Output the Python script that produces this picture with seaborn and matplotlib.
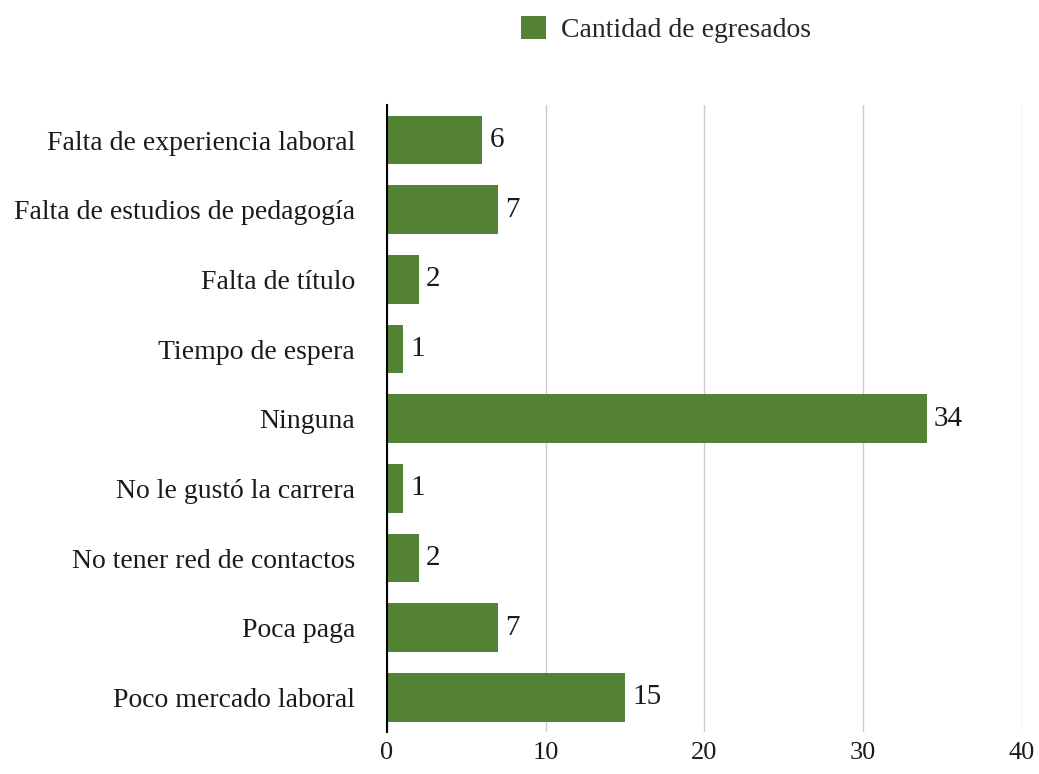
import pandas as pd
import seaborn as sns
import matplotlib.pyplot as plt

# Data
categories = [
    'Falta de experiencia laboral',
    'Falta de estudios de pedagogía',
    'Falta de título',
    'Tiempo de espera',
    'Ninguna',
    'No le gustó la carrera',
    'No tener red de contactos',
    'Poca paga',
    'Poco mercado laboral',
]
counts = [6, 7, 2, 1, 34, 1, 2, 7, 15]
x_ticks = [0, 10, 20, 30, 40]
series_name = 'Cantidad de egresados'

data = pd.DataFrame({'Motivo': categories, series_name: counts})

sns.set_style('white')
plt.rcParams['font.family'] = ['Liberation Serif', 'DejaVu Serif']

fig = plt.figure(figsize=(10.39, 7.74), dpi=100)
ax = fig.add_axes([0.3725, 0.054, 0.611, 0.81])

green = '#548235'
sns.barplot(data=data, y='Motivo', x=series_name, color=green, width=0.7,
            ax=ax, label=series_name, saturation=1, linewidth=0)

# value labels at the end of each bar
for p, v in zip(ax.patches, counts):
    ax.text(p.get_width() + 0.45, p.get_y() + p.get_height() / 2, str(v),
            va='center', ha='left', fontsize=21, color='#1a1a1a')

ax.set_xlim(0, 40)
ax.set_xticks(x_ticks)
ax.set_ylim(8.5, -0.5)
ax.grid(axis='x', color='#cccccc', linewidth=1)
ax.set_axisbelow(True)
for s in ['top', 'right', 'bottom']:
    ax.spines[s].set_visible(False)
ax.spines['left'].set_color('black')
ax.spines['left'].set_linewidth(1.5)
ax.tick_params(axis='both', length=0, colors='#1a1a1a')
ax.tick_params(axis='y', pad=23, labelsize=20)
ax.tick_params(axis='x', pad=7, labelsize=19)
ax.set_xlabel('')
ax.set_ylabel('')

ax.legend(loc='center', bbox_to_anchor=(0.641, 0.962), bbox_transform=fig.transFigure,
          frameon=False, fontsize=20, handlelength=0.9, handleheight=0.9,
          handletextpad=0.55)

plt.savefig('out.png', dpi=100)
